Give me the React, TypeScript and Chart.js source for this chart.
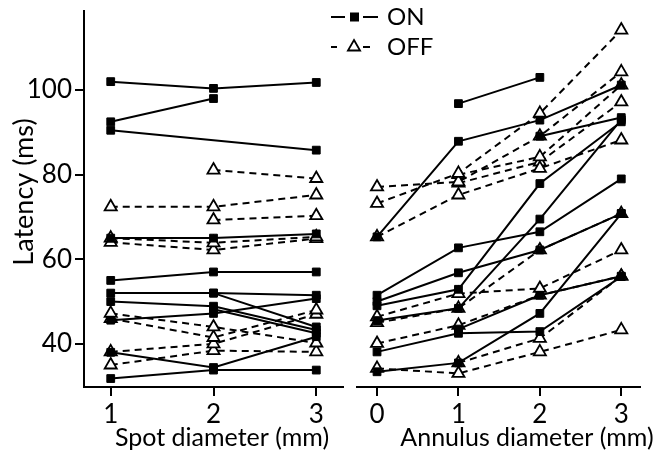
import React, { useEffect, useRef } from "react";
import { Chart, registerables } from "chart.js";

Chart.register(...registerables);

// ---------- data ----------
const spotX = [1, 2, 3];
const annulusX = [0, 1, 2, 3];
const yTicks = [40, 60, 80, 100];
const spotTicks = [1, 2, 3];
const annulusTicks = [0, 1, 2, 3];

const yTitle = "Latency (ms)";
const spotTitle = "Spot diameter (mm)";
const annulusTitle = "Annulus diameter (mm)";
const legendLabels = ["ON", "OFF"];

// Spot diameter, ON cells (ms)
const spotOn1 = [102, 100.4, 101.8];
const spotOn2 = [92.5, 98, null];
const spotOn3 = [90.5, null, 85.8];
const spotOn4 = [65, 65, 66];
const spotOn5 = [55, 57, 57];
const spotOn6 = [52, 52, 51.5];
const spotOn7 = [null, 52, 44];
const spotOn8 = [50, 48.9, 43.3];
const spotOn9 = [45.6, 47.2, 50.7];
const spotOn10 = [null, 48.2, 42.5];
const spotOn11 = [38, 34.4, 41.7];
const spotOn12 = [31.8, 33.8, 33.8];

// Spot diameter, OFF cells (ms)
const spotOff1 = [null, 81.1, 79.1];
const spotOff2 = [72.4, 72.4, 75.2];
const spotOff3 = [null, 69.3, 70.3];
const spotOff4 = [65, 63.9, 65.3];
const spotOff5 = [64, 62.2, 64.9];
const spotOff6 = [47.2, 44, 40.2];
const spotOff7 = [46, 41.5, 48];
const spotOff8 = [38.1, 40, 47];
const spotOff9 = [35, 38.4, 38.1];

// Annulus diameter, ON cells (ms)
const annOn1 = [65.3, 87.9, 92.9, 101.2];
const annOn2 = [null, 96.8, 103, null];
const annOn3 = [null, null, 89.1, 93.5];
const annOn4 = [51.5, 62.7, 66.5, 79];
const annOn5 = [50, 56.8, 62.2, 70.8];
const annOn6 = [49, 52.9, 77.9, 92.5];
const annOn7 = [45.5, 48.4, 69.5, 93];
const annOn8 = [38.1, 42.5, 42.9, 55.9];
const annOn9 = [33.4, 35.5, 47.2, 70.8];
const annOn10 = [null, 43.5, 51.5, 56];

// Annulus diameter, OFF cells (ms)
const annOff1 = [73.2, 80.3, 94.5, 114.2];
const annOff2 = [77.1, 78.3, 89.1, 104.3];
const annOff3 = [65.3, 75.2, 81.5, 88.2];
const annOff4 = [null, 80, 84.2, 101.2];
const annOff5 = [null, 78, 83, 97.2];
const annOff6 = [46.4, 51.9, 53.1, 62.2];
const annOff7 = [40.1, 44.4, 51.5, 56];
const annOff8 = [34.2, 33, 38.1, 43.3];
const annOff9 = [45, 48.4, 62.2, 70.8];
const annOff10 = [null, 35.5, 41.3, 56];

const spotOnSeries = [spotOn1, spotOn2, spotOn3, spotOn4, spotOn5, spotOn6, spotOn7, spotOn8, spotOn9, spotOn10, spotOn11, spotOn12];
const spotOffSeries = [spotOff1, spotOff2, spotOff3, spotOff4, spotOff5, spotOff6, spotOff7, spotOff8, spotOff9];
const annOnSeries = [annOn1, annOn2, annOn3, annOn4, annOn5, annOn6, annOn7, annOn8, annOn9, annOn10];
const annOffSeries = [annOff1, annOff2, annOff3, annOff4, annOff5, annOff6, annOff7, annOff8, annOff9, annOff10];

// ---------- styling ----------
const FONT = "Lato, 'Open Sans', sans-serif";
const Y_MIN = 29.8;
const Y_MAX = 118.7;

function makeDataset(xs: number[], ys: (number | null)[], on: boolean) {
  return {
    data: xs.map((x, i) => ({ x, y: ys[i] })),
    borderColor: "#000",
    borderWidth: 2,
    borderDash: on ? [] : [7, 5],
    pointStyle: on ? "rect" : "triangle",
    pointRadius: on ? 5.5 : 7,
    pointBorderWidth: on ? 1 : 1.8,
    pointBackgroundColor: on ? "#000" : "#fff",
    pointBorderColor: "#000",
    spanGaps: true,
    tension: 0,
    order: on ? 0 : 1,
    fill: false,
  };
}

function axisCommon(ticksArr: number[]) {
  return {
    type: "linear" as const,
    afterBuildTicks: (s: any) => {
      s.ticks = ticksArr.map((v) => ({ value: v }));
    },
    grid: {
      display: true,
      drawOnChartArea: false,
      drawTicks: true,
      tickLength: 9,
      tickWidth: 2,
      tickColor: "#000",
      color: "#000",
      lineWidth: 2,
    },
    border: { display: true, color: "#000", width: 2 },
    ticks: {
      color: "#000",
      font: { family: FONT, size: 26 },
      padding: 3,
      callback: (v: any) => String(v),
    },
  };
}

function xAfterFit(s: any) {
  s.height = 70;
  s.paddingLeft = 0;
  s.paddingRight = 0;
}

const leftDecorPlugin = {
  id: "leftDecor",
  afterDraw(chart: any) {
    const ctx = chart.ctx;
    ctx.save();
    ctx.strokeStyle = "#000";
    ctx.fillStyle = "#000";
    ctx.lineWidth = 2;
    // legend: ON
    const y1 = 17;
    ctx.beginPath();
    ctx.moveTo(331, y1);
    ctx.lineTo(345, y1);
    ctx.moveTo(363, y1);
    ctx.lineTo(378, y1);
    ctx.stroke();
    ctx.fillRect(350, y1 - 4.5, 9, 9);
    // legend: OFF
    const y2 = 47;
    ctx.beginPath();
    ctx.moveTo(331, y2);
    ctx.lineTo(337, y2);
    ctx.moveTo(363, y2);
    ctx.lineTo(370, y2);
    ctx.stroke();
    ctx.lineWidth = 1.8;
    ctx.beginPath();
    const r = 7;
    const cx = 354;
    ctx.moveTo(cx, y2 - r);
    ctx.lineTo(cx + r * 0.866, y2 + r / 2);
    ctx.lineTo(cx - r * 0.866, y2 + r / 2);
    ctx.closePath();
    ctx.fillStyle = "#fff";
    ctx.fill();
    ctx.stroke();
    ctx.fillStyle = "#000";
    ctx.font = `24px ${FONT}`;
    ctx.textBaseline = "middle";
    ctx.textAlign = "left";
    ctx.fillText(legendLabels[0], 387, y1);
    ctx.fillText(legendLabels[1], 387, y2);

    // axis titles
    ctx.font = `25px ${FONT}`;
    ctx.textAlign = "center";
    ctx.textBaseline = "alphabetic";
    ctx.fillText(spotTitle, 222, 446);
    ctx.fillText(annulusTitle, 527, 446);
    ctx.save();
    ctx.translate(33, 192);
    ctx.rotate(-Math.PI / 2);
    ctx.font = `27px ${FONT}`;
    ctx.fillText(yTitle, 0, 0);
    ctx.restore();
    ctx.restore();
  },
};

export default function App() {
  const leftRef = useRef<HTMLCanvasElement>(null);
  const rightRef = useRef<HTMLCanvasElement>(null);

  useEffect(() => {
    const leftDatasets = [
      ...spotOnSeries.map((s) => makeDataset(spotX, s, true)),
      ...spotOffSeries.map((s) => makeDataset(spotX, s, false)),
    ];
    const rightDatasets = [
      ...annOnSeries.map((s) => makeDataset(annulusX, s, true)),
      ...annOffSeries.map((s) => makeDataset(annulusX, s, false)),
    ];

    const left = new Chart(leftRef.current!, {
      type: "line",
      data: { datasets: leftDatasets as any },
      plugins: [leftDecorPlugin],
      options: {
        animation: false,
        responsive: false,
        events: [],
        layout: { padding: { left: 0, top: 11, right: 317, bottom: 0 } },
        plugins: { legend: { display: false }, tooltip: { enabled: false } },
        scales: {
          x: {
            ...axisCommon(spotTicks),
            min: 0.74,
            max: 3.26,
            afterFit: xAfterFit,
          },
          y: {
            ...axisCommon(yTicks),
            min: Y_MIN,
            max: Y_MAX,
            afterFit: (s: any) => {
              s.width = 84;
              s.paddingTop = 0;
              s.paddingBottom = 0;
            },
          },
        },
      } as any,
    });

    const right = new Chart(rightRef.current!, {
      type: "line",
      data: { datasets: rightDatasets as any },
      options: {
        animation: false,
        responsive: false,
        events: [],
        layout: { padding: { left: 357, top: 11, right: 20, bottom: 0 } },
        plugins: { legend: { display: false }, tooltip: { enabled: false } },
        scales: {
          x: {
            ...axisCommon(annulusTicks),
            min: -0.246,
            max: 3.23,
            afterFit: xAfterFit,
          },
          y: {
            type: "linear",
            display: false,
            min: Y_MIN,
            max: Y_MAX,
          },
        },
      } as any,
    });

    return () => {
      left.destroy();
      right.destroy();
    };
  }, []);

  return (
    <div style={{ position: "absolute", left: 0, top: 0, width: 660, height: 457, background: "#fff" }}>
      <canvas ref={leftRef} width={660} height={457} style={{ position: "absolute", left: 0, top: 0 }} />
      <canvas ref={rightRef} width={660} height={457} style={{ position: "absolute", left: 0, top: 0 }} />
    </div>
  );
}
